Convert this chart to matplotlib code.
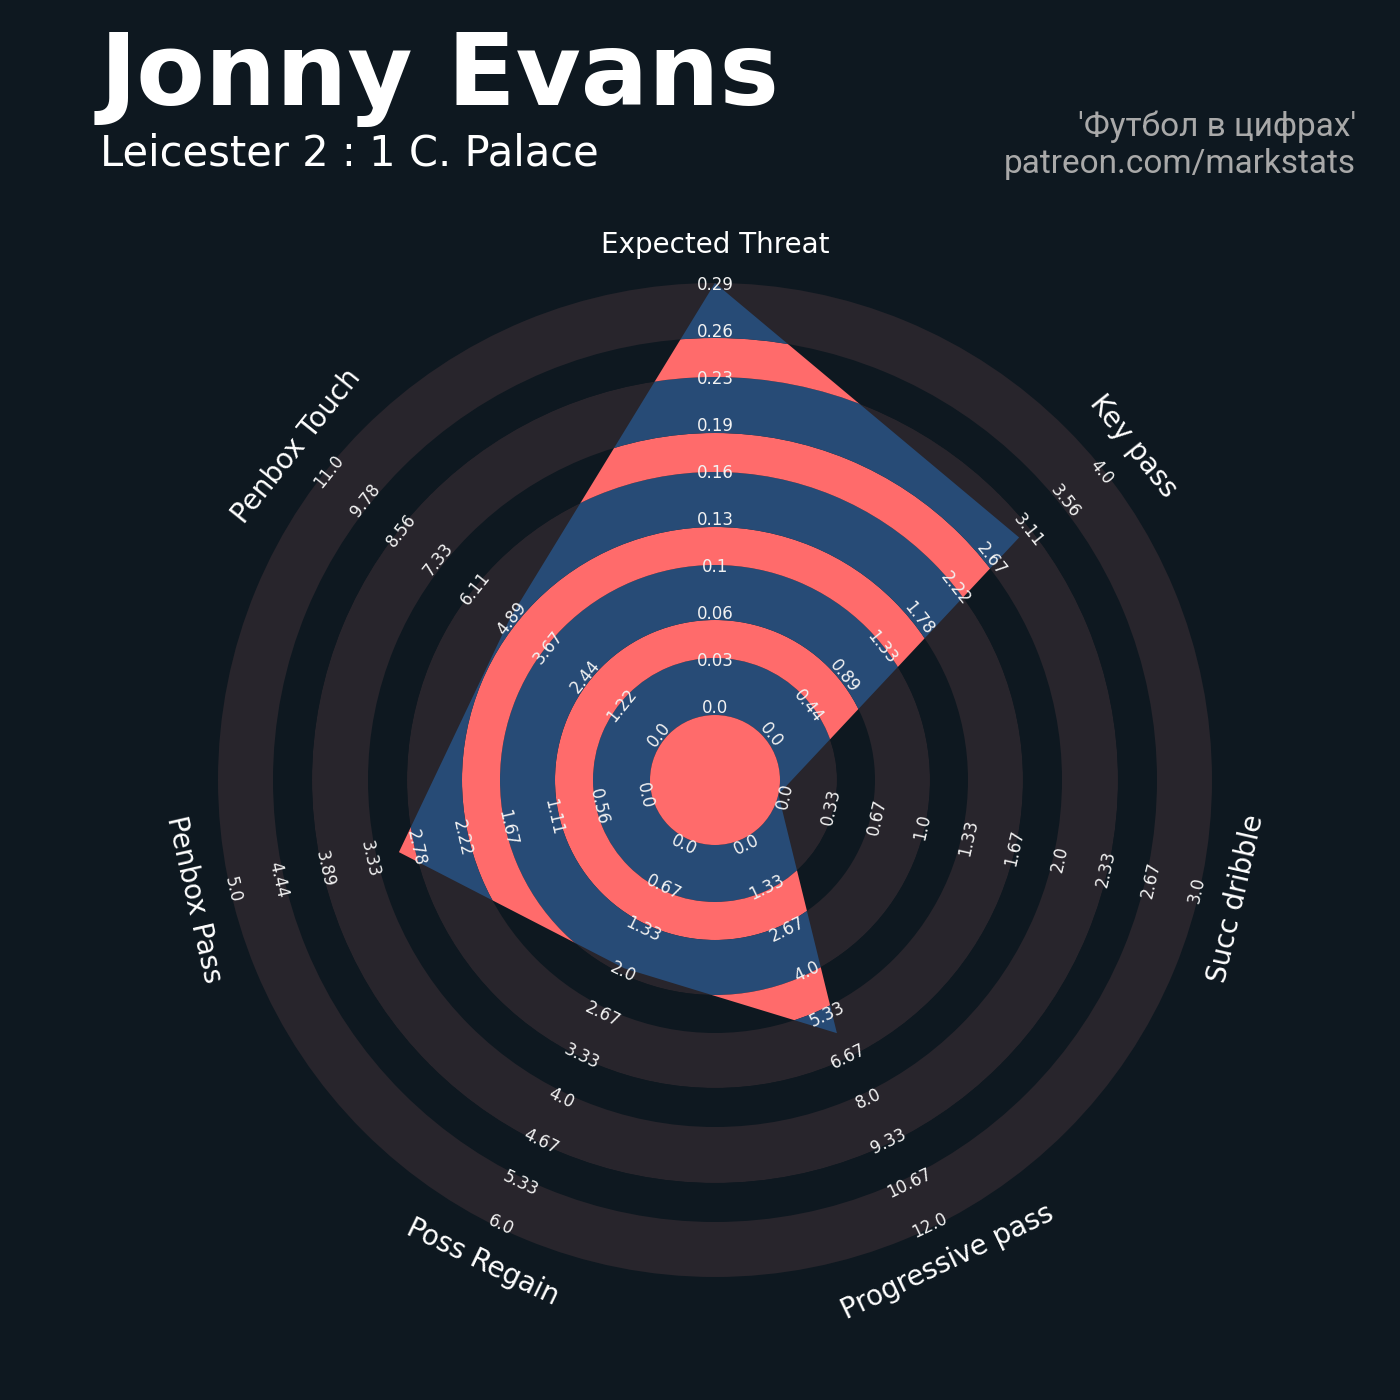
import numpy as np
import matplotlib.pyplot as plt
from matplotlib.patches import Wedge, Polygon, Circle

# radar data
params = ['Expected Threat', 'Key pass', 'Succ dribble', 'Progressive pass',
          'Poss Regain', 'Penbox Pass', 'Penbox Touch']
values = [0.29, 3, 0, 6, 2, 3, 5]
low = [0, 0, 0, 0, 0, 0, 0]
high = [0.29, 4, 3, 12, 6, 5, 11]

title = 'Jonny Evans'
subtitle = 'Leicester 2 : 1 C. Palace'
credit = "'Футбол в цифрах'\npatreon.com/markstats"

bg = '#0e1820'
ring_gray = '#28252c'
blue = '#274b76'
red = '#ff6b6b'

fig = plt.figure(figsize=(14, 14), dpi=100)
fig.patch.set_facecolor(bg)
ax = fig.add_axes([0, 0, 1, 1])
ax.set_xlim(0, 1400)
ax.set_ylim(0, 1400)
ax.set_facecolor(bg)
ax.axis('off')

cx, cy = 715, 620
r_center = 65
r_max = 497
ring_edges = [65, 122, 160, 215, 253, 308, 347, 403, 442, 497]

n = len(params)
angles = np.deg2rad(90 - np.arange(n) * 360 / n)

# background rings
for i in range(len(ring_edges) - 1):
    col = ring_gray if i % 2 == 0 else bg
    ax.add_patch(Wedge((cx, cy), ring_edges[i + 1], 0, 360,
                       width=ring_edges[i + 1] - ring_edges[i], color=col, lw=0))

# radar polygon
frac = [(v - lo) / (hi - lo) for v, lo, hi in zip(values, low, high)]
rad = [r_center + f * (r_max - r_center) for f in frac]
verts = [(cx + r * np.cos(a), cy + r * np.sin(a)) for r, a in zip(rad, angles)]
poly = Polygon(verts, closed=True, fc='none', ec='none')
ax.add_patch(poly)

for i in range(len(ring_edges) - 1):
    col = blue if i % 2 == 0 else red
    w = Wedge((cx, cy), ring_edges[i + 1], 0, 360,
              width=ring_edges[i + 1] - ring_edges[i], color=col, lw=0)
    ax.add_patch(w)
    w.set_clip_path(poly)

ax.add_patch(Circle((cx, cy), r_center, color=red, lw=0, zorder=2))


def text_rot(a):
    rot = np.rad2deg(a) - 90
    while rot < -90:
        rot += 180
    while rot > 90:
        rot -= 180
    return rot


# range labels
for a, lo, hi in zip(angles, low, high):
    ticks = np.round(np.linspace(lo, hi, 10), 2)
    rot = text_rot(a)
    for k, t in enumerate(ticks):
        r = 72 + k * 46.95
        ax.text(cx + r * np.cos(a), cy + r * np.sin(a), str(t), color='#f2f2f2',
                fontsize=12, rotation=rot, ha='center', va='center',
                rotation_mode='anchor', zorder=5)

# parameter labels
for a, p in zip(angles, params):
    r = 535
    ax.text(cx + r * np.cos(a), cy + r * np.sin(a), p, color='white',
            fontsize=20, rotation=text_rot(a), ha='center', va='center',
            rotation_mode='anchor', zorder=5)

fig.text(100 / 1400, 1 - 105 / 1400, title, color='white', fontsize=72,
         fontweight='bold', ha='left', va='baseline')
fig.text(100 / 1400, 1 - 165 / 1400, subtitle, color='white', fontsize=30,
         ha='left', va='baseline')
fig.text(1356 / 1400, 1 - 173 / 1400, credit, color='#a9a9a9', fontsize=24,
         family='Roboto', ha='right', va='baseline', multialignment='right',
         linespacing=1.2)

fig.savefig('out.png', dpi=100, facecolor=bg)
